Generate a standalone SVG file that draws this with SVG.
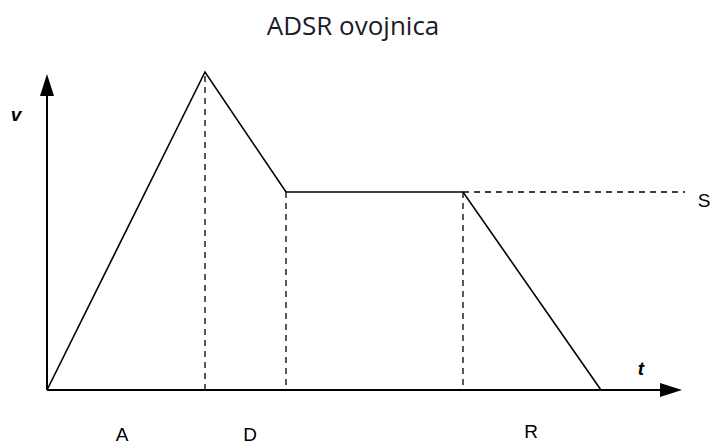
<svg xmlns="http://www.w3.org/2000/svg" width="721" height="446" viewBox="0 0 721 446">
<style>
.ax{stroke:#000;stroke-width:2;fill:none}
.ln{stroke:#000;stroke-width:1.6;fill:none}
.da{stroke:#000;stroke-width:1.3;fill:none;stroke-dasharray:6,5}
.lb{font-family:"Liberation Sans",Arial,sans-serif;font-size:19px;fill:#000}
.it{font-style:italic;font-weight:bold}
.tt{font-family:"Open Sans","Noto Sans",sans-serif;font-size:26px;fill:#1a1a2a}
</style>
<g id="title"><text class="tt" x="353" y="35" text-anchor="middle">ADSR ovojnica</text></g>
<g id="connectors">
<path d="M47,390 V88" class="ax"/>
<path d="M40,96 L47,74 L54,96 z" fill="#000"/>
<path d="M47,390 H668" class="ax"/>
<path d="M660,383 L682,390 L660,397 z" fill="#000"/>
<path d="M47,390 L205,72 L286,192 H463 L601,390" class="ln"/>
<path d="M205,76 V390" class="da"/>
<path d="M286,192 V390" class="da"/>
<path d="M463,192 V390" class="da"/>
<path d="M463,192 H685" class="da"/>
</g>
<g id="labels">
<text class="lb it" x="16" y="121" text-anchor="middle">v</text>
<text class="lb it" x="641" y="375" text-anchor="middle">t</text>
<text class="lb" x="704" y="207" text-anchor="middle">S</text>
<text class="lb" x="122" y="441" text-anchor="middle">A</text>
<text class="lb" x="250" y="441" text-anchor="middle">D</text>
<text class="lb" x="531" y="438" text-anchor="middle">R</text>
</g>
</svg>
